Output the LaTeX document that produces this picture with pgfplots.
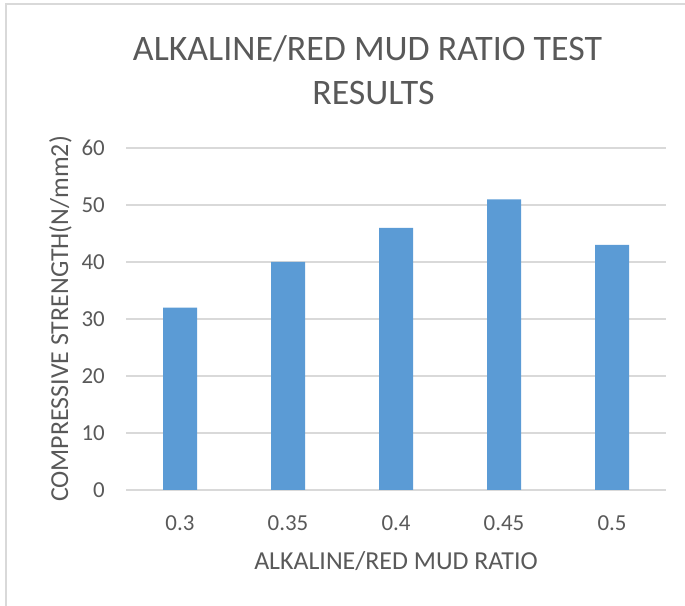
\documentclass[border=0pt]{standalone}
\usepackage{fontspec}
\setmainfont{Carlito}
\usepackage{pgfplots}
\pgfplotsset{compat=1.18}
\definecolor{barblue}{HTML}{5B9BD5}
\definecolor{txt}{HTML}{595959}
\definecolor{gridc}{HTML}{D9D9D9}
\begin{document}
\begin{tikzpicture}[x=1bp,y=1bp]
\path[use as bounding box] (0,0) rectangle (685,606);
\draw[gridc, line width=1.5bp] (6,0) -- (6,602) -- (685,602);
\begin{axis}[
  at={(126bp,116bp)}, anchor=south west,
  scale only axis, width=540bp, height=342bp,
  xmin=-0.5, xmax=4.5, ymin=0, ymax=60,
  ytick={0,10,...,60},
  xtick={0,1,2,3,4},
  xticklabels={0.3,0.35,0.4,0.45,0.5},
  axis line style={draw=none},
  major tick length=0pt,
  ymajorgrids,
  grid style={gridc, line width=1.2bp},
  tick label style={txt, font=\fontsize{23}{28}\selectfont},
  /pgf/number format/assume math mode=true,
  yticklabel style={anchor=east, inner sep=0pt, xshift=-21bp},
  xticklabel style={anchor=north, inner sep=0pt, yshift=-25bp},
  clip=false,
]
\addplot[ybar, bar width=34bp, fill=barblue, draw=none] coordinates {
  (0,32) (1,40) (2,46) (3,51) (4,43)
};
\end{axis}
\node[txt, anchor=base, font=\fontsize{36}{43}\selectfont] at (367.5,545) {ALKALINE/RED MUD RATIO TEST};
\node[txt, anchor=base, font=\fontsize{36}{43}\selectfont] at (373.5,501) {RESULTS};
\node[txt, anchor=base, font=\fontsize{26}{31}\selectfont] at (396,36) {ALKALINE/RED MUD RATIO};
\node[txt, anchor=base, rotate=90, font=\fontsize{26}{31}\selectfont] at (68,287) {COMPRESSIVE STRENGTH(N/mm2)};
\end{tikzpicture}
\end{document}
